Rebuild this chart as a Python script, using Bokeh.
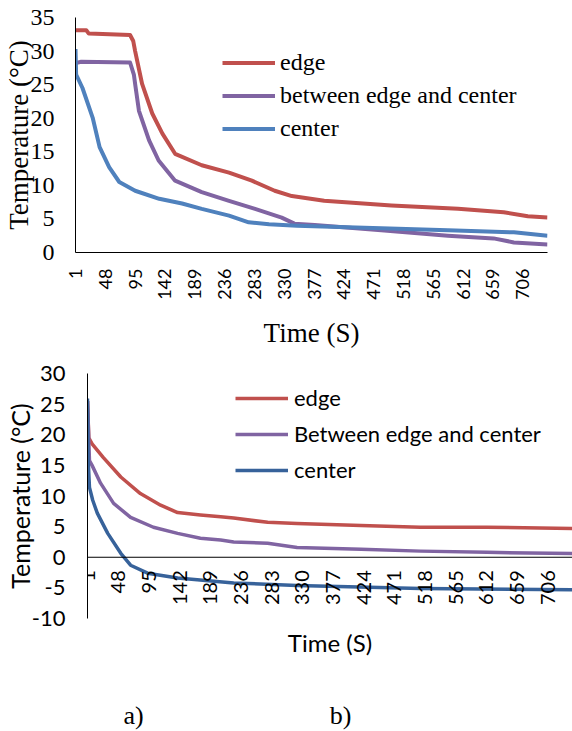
import math
from bokeh.plotting import figure
from bokeh.models import Range1d, FixedTicker, Legend, LegendItem, Span
from bokeh.embed import file_html
from bokeh.resources import INLINE
from bokeh.core.properties import value

# ---------------- data ----------------
tick_positions = [1, 48, 95, 142, 189, 236, 283, 330, 377, 424, 471, 518, 565, 612, 659, 706]
tick_labels = ["1", "48", "95", "142", "189", "236", "283", "330", "377", "424",
               "471", "518", "565", "612", "659", "706"]

series_names_a = ["edge", "between edge and center", "center"]
series_names_b = ["edge", "Between edge and center", "center"]

# chart a)
a_edge_t = [1, 18, 22, 87, 92, 95, 106, 122, 138, 158, 200, 243, 279, 315, 342, 393, 499, 604, 676, 714, 745]
a_edge_v = [33.1, 33.1, 32.6, 32.4, 31.5, 30.0, 25.1, 20.7, 17.7, 14.7, 13.0, 11.9, 10.7, 9.2, 8.4, 7.7, 7.0, 6.5, 6.0, 5.4, 5.2]
a_mid_t = [1, 10, 87, 93, 95, 101, 117, 132, 158, 200, 243, 284, 326, 346, 378, 483, 588, 660, 692, 745]
a_mid_v = [28.2, 28.4, 28.3, 26.5, 25.1, 21.1, 16.7, 13.7, 10.7, 9.0, 7.7, 6.5, 5.2, 4.3, 4.1, 3.3, 2.5, 2.1, 1.5, 1.2]
a_ctr_t = [1, 2, 12, 28, 39, 54, 70, 95, 133, 169, 200, 243, 274, 306, 350, 483, 588, 692, 745]
a_ctr_v = [30.3, 26.5, 24.5, 20.1, 15.7, 12.7, 10.5, 9.2, 8.0, 7.3, 6.5, 5.5, 4.5, 4.2, 4.0, 3.6, 3.3, 3.0, 2.5]

# chart b)
b_edge_t = [1, 3, 8, 25, 52, 82, 113, 139, 174, 205, 225, 277, 322, 420, 511, 613, 744]
b_edge_v = [25.5, 19.5, 18.5, 16.3, 13.1, 10.4, 8.5, 7.3, 6.9, 6.6, 6.4, 5.7, 5.5, 5.2, 4.9, 4.9, 4.7]
b_mid_t = [1, 4, 8, 21, 41, 67, 102, 139, 174, 205, 225, 277, 322, 420, 511, 613, 744]
b_mid_v = [25.5, 15.8, 15.0, 12.1, 8.8, 6.5, 4.9, 3.9, 3.1, 2.8, 2.5, 2.3, 1.6, 1.3, 1.0, 0.8, 0.6]
b_ctr_t = [1, 2, 4, 9, 16, 32, 52, 67, 93, 139, 225, 322, 511, 744]
b_ctr_v = [25.9, 16.0, 11.4, 9.3, 7.2, 3.9, 0.65, -1.3, -2.6, -3.4, -4.2, -4.6, -5.1, -5.3]

a_yticks = [0, 5, 10, 15, 20, 25, 30, 35]
b_yticks = [-10, -5, 0, 5, 10, 15, 20, 25, 30]
b_ytick_labels = ["-10", "-5", "0", "5", "10", "15", "20", "25", "30"]

caption_text = ["a)", "b)"]

RED = "#C0504D"
PURPLE = "#8064A2"
BLUE_A = "#4F81BD"
BLUE_B = "#37629A"

SERIF = "Liberation Serif"
SANS = "Lato"


def style_axis(ax, ticks, lab_font, lab_size, lab_standoff, title, t_font, t_size, t_standoff):
    ax.ticker = FixedTicker(ticks=ticks)
    ax.major_tick_line_color = None
    ax.minor_tick_line_color = None
    ax.major_tick_out = 0
    ax.major_tick_in = 0
    ax.major_label_standoff = lab_standoff
    ax.major_label_text_font = lab_font
    ax.major_label_text_font_size = lab_size
    ax.major_label_text_color = "black"
    ax.axis_line_color = "black"
    ax.axis_label = title
    ax.axis_label_text_font = t_font
    ax.axis_label_text_font_size = t_size
    ax.axis_label_text_font_style = "normal"
    ax.axis_label_text_color = "black"
    ax.axis_label_standoff = t_standoff


# ---------------- chart a) ----------------
p1 = figure(width=572, height=355, x_range=Range1d(1, 745), y_range=Range1d(0, 35),
            output_backend="svg", toolbar_location=None,
            min_border_left=73, min_border_right=25, min_border_top=17, min_border_bottom=103)
p1.outline_line_color = None
p1.xgrid.visible = False
p1.ygrid.visible = False

r1 = p1.line(a_edge_t, a_edge_v, line_color=RED, line_width=4, line_join="round")
r2 = p1.line(a_mid_t, a_mid_v, line_color=PURPLE, line_width=4, line_join="round")
r3 = p1.line(a_ctr_t, a_ctr_v, line_color=BLUE_A, line_width=4, line_join="round")

xa = p1.xaxis[0]
style_axis(xa, tick_positions, SANS, "18px", 16, "Time (S)", SERIF, "27px", 15)
xa.major_label_overrides = dict(zip(tick_positions, tick_labels))
xa.major_label_orientation = math.pi / 2

ya = p1.yaxis[0]
style_axis(ya, a_yticks, SERIF, "24px", 21, "Temperature (°C)", SERIF, "27px", -6)

leg1 = Legend(items=[LegendItem(label=series_names_a[0], renderers=[r1]),
                     LegendItem(label=series_names_a[1], renderers=[r2]),
                     LegendItem(label=series_names_a[2], renderers=[r3])],
              location=(147, 110), padding=0, margin=0, border_line_color=None,
              background_fill_alpha=0, glyph_width=53, glyph_height=27, label_height=27,
              spacing=6, label_standoff=5, label_text_font=SERIF,
              label_text_font_size="24px", label_text_color="black")
p1.add_layout(leg1)

# ---------------- chart b) ----------------
p2 = figure(width=572, height=305, x_range=Range1d(1, 744), y_range=Range1d(-10, 30),
            output_backend="svg", toolbar_location=None,
            min_border_left=87, min_border_right=0, min_border_top=18, min_border_bottom=42)
p2.outline_line_color = None
p2.xgrid.visible = False
p2.ygrid.visible = False

p2.add_layout(Span(location=0, dimension="width", line_color="black", line_width=1))

s1 = p2.line(b_edge_t, b_edge_v, line_color=RED, line_width=3.5, line_join="round")
s2 = p2.line(b_mid_t, b_mid_v, line_color=PURPLE, line_width=3.5, line_join="round")
s3 = p2.line(b_ctr_t, b_ctr_v, line_color=BLUE_B, line_width=3.5, line_join="round")

# category labels sit next to the y=0 axis line, as in the original
p2.text(x=tick_positions, y=[0] * len(tick_positions), text=tick_labels,
        angle=math.pi / 2, text_align="right", text_baseline="middle", y_offset=13,
        text_font=value(SANS), text_font_size="20px", text_color="black")

xb = p2.xaxis[0]
style_axis(xb, [], SANS, "10px", 0, "Time (S)", SANS, "24px", 9)
xb.axis_line_color = None

yb = p2.yaxis[0]
style_axis(yb, b_yticks, SANS, "22px", 22, "Temperature (°C)", SANS, "25px", -6)
yb.major_label_overrides = dict(zip(b_yticks, b_ytick_labels))

leg2 = Legend(items=[LegendItem(label=series_names_b[0], renderers=[s1]),
                     LegendItem(label=series_names_b[1], renderers=[s2]),
                     LegendItem(label=series_names_b[2], renderers=[s3])],
              location=(148, 135), padding=0, margin=0, border_line_color=None,
              background_fill_alpha=0, glyph_width=53, glyph_height=26, label_height=26,
              spacing=9, label_standoff=6, label_text_font=SANS,
              label_text_font_size="22px", label_text_color="black")
p2.add_layout(leg2)

# ---------------- captions ----------------
p3 = figure(width=572, height=71, x_range=Range1d(0, 572), y_range=Range1d(0, 71),
            output_backend="svg", toolbar_location=None,
            x_axis_location=None, y_axis_location=None,
            min_border=0, min_border_left=0, min_border_right=0, min_border_top=0, min_border_bottom=0)
p3.outline_line_color = None
p3.xgrid.visible = False
p3.ygrid.visible = False
p3.text(x=[133, 340], y=[16, 16], text=caption_text, text_align="center", text_baseline="middle",
        text_font=value(SERIF), text_font_size="26px", text_color="black")

open("out.html", "w").write(file_html([p1, p2, p3], INLINE))
